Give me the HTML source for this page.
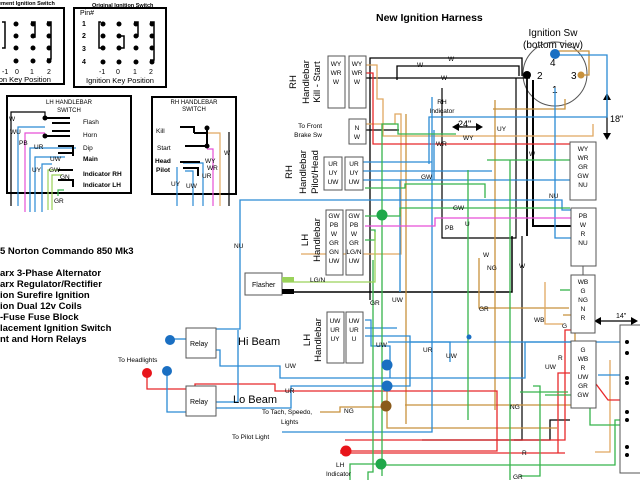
<!DOCTYPE html>
<html><head><meta charset="utf-8"><style>
html,body{margin:0;padding:0;background:#fff;}
svg{display:block;font-family:"Liberation Sans",Arial,sans-serif;}
</style></head><body>
<svg width="640" height="480" viewBox="0 0 640 480" xmlns="http://www.w3.org/2000/svg">
<rect width="640" height="480" fill="#fff"/>
<!-- top-left switch boxes -->
<g fill="none" stroke="#000" stroke-width="2">
<rect x="-5" y="8" width="69" height="76"/>
<rect x="74" y="8" width="92" height="79"/>
<rect x="7" y="96" width="124" height="97"/>
<rect x="152" y="97" width="84" height="97"/>
</g>
<text x="-2" y="5" font-size="5.5" font-weight="bold">ement Ignition Switch</text>
<text x="92" y="7" font-size="5.5" font-weight="bold">Original Ignition Switch</text>
<g fill="#000">
<circle cx="16" cy="24" r="2.5"/><circle cx="33" cy="24" r="2.5"/><circle cx="49" cy="24" r="2.5"/>
<circle cx="16" cy="36" r="2.5"/><circle cx="33" cy="36" r="2.5"/><circle cx="49" cy="36" r="2.5"/>
<circle cx="16" cy="48" r="2.5"/><circle cx="33" cy="48" r="2.5"/><circle cx="49" cy="48" r="2.5"/>
<circle cx="16" cy="61" r="2.5"/><circle cx="33" cy="61" r="2.5"/><circle cx="49" cy="61" r="2.5"/>
<circle cx="103" cy="24" r="2.5"/><circle cx="119" cy="24" r="2.5"/><circle cx="136" cy="24" r="2.5"/><circle cx="152" cy="24" r="2.5"/>
<circle cx="103" cy="36" r="2.5"/><circle cx="119" cy="36" r="2.5"/><circle cx="136" cy="36" r="2.5"/><circle cx="152" cy="36" r="2.5"/>
<circle cx="103" cy="48" r="2.5"/><circle cx="119" cy="48" r="2.5"/><circle cx="136" cy="48" r="2.5"/><circle cx="152" cy="48" r="2.5"/>
<circle cx="103" cy="62" r="2.5"/><circle cx="119" cy="62" r="2.5"/><circle cx="136" cy="62" r="2.5"/><circle cx="152" cy="62" r="2.5"/>
</g>
<g fill="none" stroke="#000" stroke-width="1.5">
<path d="M31 22h4v15h-4M47 22h4v37h-4M2 22h3v26h-3"/>
<path d="M101 22h-2v26h3M117 36h7v12h-6M134 22h4v14h-4M150 22h4v38h-4"/>
</g>
<g font-size="7" font-weight="bold"><text x="82" y="26">1</text><text x="82" y="38">2</text><text x="82" y="51">3</text><text x="82" y="64">4</text><text x="80" y="15" font-weight="normal">Pin#</text></g>
<g font-size="7"><text x="2" y="74">-1</text><text x="15" y="74">0</text><text x="30" y="74">1</text><text x="47" y="74">2</text>
<text x="99" y="74">-1</text><text x="116" y="74">0</text><text x="133" y="74">1</text><text x="149" y="74">2</text></g>
<text x="-5" y="82" font-size="7.5">tion Key Position</text>
<text x="86" y="83" font-size="7.5">Ignition Key Position</text>
<!-- LH handlebar switch -->
<text x="69" y="104" font-size="6" text-anchor="middle">LH HANDLEBAR</text>
<text x="69" y="112" font-size="6" text-anchor="middle">SWITCH</text>
<g font-size="6.5"><text x="83" y="124">Flash</text><text x="83" y="137">Horn</text><text x="83" y="150">Dip</text>
<text x="83" y="161" font-weight="bold">Main</text><text x="83" y="176" font-weight="bold">Indicator RH</text><text x="83" y="187" font-weight="bold">Indicator LH</text></g>
<g fill="none" stroke-width="1.2">
<path d="M11 206V112h34v6" stroke="#000"/>
<path d="M18 206V127h27" stroke="#2a8ad4"/>
<path d="M25 212V133h20" stroke="#e64fd6"/>
<path d="M30 212V148h46" stroke="#2a8ad4"/>
<path d="M35 212V157h30" stroke="#2a8ad4"/>
<path d="M42 212V164h10" stroke="#2a8ad4"/>
<path d="M48 210V170h14" stroke="#9ad25a"/>
<path d="M52 210V175h10" stroke="#9ad25a"/>
<path d="M58 196v-6h6" stroke="#36b44c"/>
</g>
<g fill="#000"><circle cx="45" cy="118" r="2.5"/><circle cx="45" cy="136" r="2.5"/></g>
<g stroke="#000" stroke-width="2" fill="none"><path d="M45 118h25M52 123h18M45 136h25M52 131h18M58 146h15v10M58 153h15M58 170h15M58 180h15v7"/></g>
<g font-size="6.5"><text x="9" y="121">W</text><text x="10" y="134">WU</text><text x="19" y="145">PB</text><text x="34" y="149">UR</text><text x="50" y="161">UW</text><text x="32" y="172">UY</text><text x="49" y="172">GW</text><text x="60" y="179">GN</text><text x="54" y="203">GR</text></g>
<!-- RH handlebar switch -->
<text x="194" y="104" font-size="6" text-anchor="middle">RH HANDLEBAR</text>
<text x="194" y="111" font-size="6" text-anchor="middle">SWITCH</text>
<g font-size="6.5"><text x="156" y="133">Kill</text><text x="157" y="150">Start</text><text x="155" y="163" font-weight="bold">Head</text><text x="156" y="172" font-weight="bold">Pilot</text></g>
<g fill="none" stroke-width="1.2">
<path d="M229 206V132" stroke="#000"/>
<path d="M220 206V133h-14" stroke="#e0a860"/>
<path d="M213 206V149h-6" stroke="#e64fd6"/>
<path d="M203 206V163h-20" stroke="#2a8ad4"/>
<path d="M193 206V171h-8" stroke="#2a8ad4"/>
<path d="M177 206V167" stroke="#2a8ad4"/>
</g>
<g stroke="#000" stroke-width="2" fill="none"><path d="M180 127h14v6M194 133h12M207 127v20M185 146h22M180 162h20M183 168h15v8"/></g>
<g fill="#000"><circle cx="207" cy="128" r="2.5"/><circle cx="207" cy="146" r="2.5"/></g>
<g font-size="6.5"><text x="205" y="163">WY</text><text x="224" y="155">W</text><text x="207" y="170">WR</text><text x="202" y="178">UR</text><text x="171" y="186">UY</text><text x="186" y="188">UW</text></g>
<!-- left text -->
<g font-size="9.5" font-weight="bold"><text x="0" y="254">5 Norton Commando 850 Mk3</text>
<text x="0" y="276">arx 3-Phase Alternator</text><text x="0" y="287">arx Regulator/Rectifier</text><text x="0" y="298">ion Surefire Ignition</text>
<text x="0" y="309">ion Dual 12v Coils</text><text x="0" y="320">-Fuse Fuse Block</text><text x="0" y="331">lacement Ignition Switch</text><text x="0" y="342">nt and Horn Relays</text></g>
<!-- Title and ignition switch -->
<text x="376" y="21" font-size="10.5" font-weight="bold">New Ignition Harness</text>
<text x="553" y="36" font-size="10" text-anchor="middle">Ignition Sw</text>
<text x="553" y="48" font-size="10" text-anchor="middle">(bottom view)</text>
<circle cx="555" cy="74" r="32" fill="none" stroke="#555" stroke-width="1"/>
<g font-size="10"><text x="550" y="66">4</text><text x="537" y="79">2</text><text x="571" y="79">3</text><text x="552" y="93">1</text></g>
<!-- 18" arrow -->
<path d="M607 95v42" stroke="#000" stroke-width="1.2"/><path d="M603 100l4-7 4 7zM603 133l4 7 4-7z" fill="#000"/>
<text x="610" y="122" font-size="9">18"</text>
<path d="M454 127h26" stroke="#000" stroke-width="1.2"/><path d="M459 123l-7 4 7 4zM476 123l7 4-7 4z" fill="#000"/>
<text x="458" y="127" font-size="9">24"</text>
<path d="M596 321h40" stroke="#000" stroke-width="1.2"/><path d="M601 317l-7 4 7 4zM631 317l7 4-7 4z" fill="#000"/>
<text x="616" y="318" font-size="7">14"</text>
<!-- wires -->
<g fill="none" stroke-width="1.3">
<!-- black -->
<path d="M370 300V58h152v18" stroke="#000"/>
<path d="M397 80V66h122v10" stroke="#000"/>
<path d="M365 78h165" stroke="#000"/>
<path d="M365 130h34" stroke="#000"/>
<path d="M516 78v160h-74v-150" stroke="#000" stroke-width="1.2"/>
<path d="M527 76v160" stroke="#000" stroke-width="1.8"/>
<path d="M533 80v146h39" stroke="#000" stroke-width="2"/>
<path d="M282 292h230v-56" stroke="#000" stroke-width="1.5"/>
<path d="M522 236v204h-100" stroke="#000" stroke-width="1.2"/>
<path d="M570 420h-20v20h-36" stroke="#000"/>
<!-- brown/tan -->
<path d="M365 65h12v34h6v37h210v-12" stroke="#e0a860"/>
<path d="M365 124h30v-10h6v140h-100" stroke="#e0a860"/>
<path d="M581 75h8v-24h-34" stroke="#c8913c"/>
<path d="M495 100v310" stroke="#c8913c"/>
<path d="M493 109h72v-10" stroke="#c8913c"/>
<path d="M406 114v310" stroke="#c8913c"/>
<path d="M479 258v50h90" stroke="#c8913c"/>
<path d="M405 405h170v-90h-12" stroke="#c8913c"/>
<path d="M545 282v42h18" stroke="#e0a860"/>
<path d="M610 360v92h-15" stroke="#e0a860"/>
<path d="M387 386v42h170" stroke="#c8913c"/>
<path d="M320 412h20v-5h45" stroke="#c8913c"/>
<!-- red -->
<path d="M365 73h8v71h203v13h-6" stroke="#e8282a"/>
<path d="M147 374v15h48v-5h80v7h222v60h-157" stroke="#e8282a"/>
<path d="M345 440h220v-110h8" stroke="#e8282a"/>
<path d="M340 453h225" stroke="#e8282a"/>
<path d="M558 453v-80h12" stroke="#e8282a"/>
<path d="M573 380h20l15 20h15v-5" stroke="#e8282a"/>
<!-- blue -->
<path d="M555 55h52v62h-178v47" stroke="#2a8ad4"/>
<path d="M362 162h70M362 171h130M362 180h210" stroke="#2a8ad4"/>
<path d="M434 180V130" stroke="#2a8ad4"/>
<path d="M240 270V200h322v10h12" stroke="#2a8ad4"/>
<path d="M555 88v150h18" stroke="#2a8ad4"/>
<path d="M240 270v59h-24" stroke="#2a8ad4"/>
<path d="M170 339h16" stroke="#2a8ad4"/>
<path d="M216 350h4v16h60v12h245v-36h50" stroke="#2a8ad4"/>
<path d="M365 320h6v26h19v32" stroke="#2a8ad4"/>
<path d="M365 328h32" stroke="#2a8ad4"/>
<path d="M365 336h45v50h-22" stroke="#2a8ad4"/>
<path d="M238 330v72h-22" stroke="#2a8ad4"/>
<path d="M167 372v40h19" stroke="#2a8ad4"/>
<path d="M216 408h75v-22h97" stroke="#2a8ad4"/>
<path d="M282 432h150v-335" stroke="#2a8ad4"/>
<path d="M400 292v-112" stroke="#2a8ad4"/>
<path d="M388 342h270" stroke="#2a8ad4"/>
<path d="M410 342h40v20" stroke="#2a8ad4"/>
<path d="M598 375h32v-20" stroke="#2a8ad4"/>
<!-- green -->
<path d="M382 215V124h16v10h58" stroke="#36b44c"/>
<path d="M365 188h40v-4h80v14" stroke="#36b44c"/>
<path d="M365 216h35v-8h170" stroke="#36b44c"/>
<path d="M382 216v260" stroke="#36b44c"/>
<path d="M468 170v250" stroke="#36b44c"/>
<path d="M510 160v320" stroke="#36b44c"/>
<path d="M487 160h85v5" stroke="#36b44c"/>
<path d="M365 240h10v-10h-4" stroke="#36b44c"/>
<path d="M373 260v212h-5v8" stroke="#36b44c"/>
<path d="M380 464h-30v16" stroke="#36b44c"/>
<path d="M380 465h235v-45h20" stroke="#36b44c"/>
<path d="M520 476h20v-90h-7" stroke="#36b44c"/>
<path d="M545 395h45v30h30" stroke="#36b44c"/>
<path d="M520 392h48" stroke="#36b44c"/>
<path d="M560 290h10" stroke="#36b44c"/>
<!-- pink -->
<path d="M365 226h70v-8h138" stroke="#e64fd6"/>
<!-- light green -->
<path d="M283 282h92v-50" stroke="#9ad25a"/>
</g>
<!-- connector boxes -->
<g fill="#fff" stroke="#555" stroke-width="1">
<rect x="328" y="56" width="17" height="52"/><rect x="349" y="56" width="17" height="52"/>
<rect x="349" y="119" width="17" height="25"/>
<rect x="324" y="157" width="18" height="33"/><rect x="345" y="157" width="18" height="33"/>
<rect x="326" y="210" width="17" height="65"/><rect x="346" y="210" width="17" height="65"/>
<rect x="327" y="312" width="17" height="51"/><rect x="346" y="312" width="17" height="51"/>
<rect x="570" y="142" width="26" height="58"/>
<rect x="571" y="208" width="25" height="58"/>
<rect x="571" y="275" width="24" height="58"/>
<rect x="571" y="341" width="25" height="67"/>
<rect x="620" y="325" width="30" height="148"/>
<rect x="245" y="273" width="37" height="22"/>
<rect x="186" y="328" width="30" height="30"/>
<rect x="186" y="386" width="30" height="30"/>
</g>
<path d="M583 266v9" stroke="#555"/>
<rect x="282" y="277" width="12" height="5" fill="#9ad25a"/><rect x="282" y="289" width="12" height="5" fill="#000"/>
<g font-size="6.5" text-anchor="middle">
<text x="336" y="66">WY</text><text x="336" y="75">WR</text><text x="336" y="84">W</text>
<text x="357" y="66">WY</text><text x="357" y="75">WR</text><text x="357" y="84">W</text>
<text x="357" y="130">N</text><text x="357" y="139">W</text>
<text x="333" y="166">UR</text><text x="333" y="175">UY</text><text x="333" y="184">UW</text>
<text x="354" y="166">UR</text><text x="354" y="175">UY</text><text x="354" y="184">UW</text>
<text x="334" y="218">GW</text><text x="334" y="227">PB</text><text x="334" y="236">W</text><text x="334" y="245">GR</text><text x="334" y="254">GN</text><text x="334" y="263">UW</text>
<text x="354" y="218">GW</text><text x="354" y="227">PB</text><text x="354" y="236">W</text><text x="354" y="245">GR</text><text x="354" y="254">LG/N</text><text x="354" y="263">UW</text>
<text x="335" y="323">UW</text><text x="335" y="332">UR</text><text x="335" y="341">UY</text>
<text x="354" y="323">UW</text><text x="354" y="332">UR</text><text x="354" y="341">U</text>
<text x="583" y="151">WY</text><text x="583" y="160">WR</text><text x="583" y="169">GR</text><text x="583" y="178">GW</text><text x="583" y="187">NU</text>
<text x="583" y="218">PB</text><text x="583" y="227">W</text><text x="583" y="236">R</text><text x="583" y="245">NU</text>
<text x="583" y="284">WB</text><text x="583" y="293">G</text><text x="583" y="302">NG</text><text x="583" y="311">N</text><text x="583" y="320">R</text>
<text x="583" y="352">G</text><text x="583" y="361">WB</text><text x="583" y="370">R</text><text x="583" y="379">UW</text><text x="583" y="388">GR</text><text x="583" y="397">GW</text>
</g>
<g font-size="9.5" text-anchor="middle">
<text transform="translate(296,82) rotate(-90)">RH</text>
<text transform="translate(309,82) rotate(-90)">Handlebar</text>
<text transform="translate(320,82) rotate(-90)">Kill - Start</text>
<text transform="translate(292,172) rotate(-90)">RH</text>
<text transform="translate(306,172) rotate(-90)">Handlebar</text>
<text transform="translate(318,172) rotate(-90)">Pilot/Head</text>
<text transform="translate(308,240) rotate(-90)">LH</text>
<text transform="translate(320,240) rotate(-90)">Handlebar</text>
<text transform="translate(310,340) rotate(-90)">LH</text>
<text transform="translate(321,340) rotate(-90)">Handlebar</text>
</g>
<g font-size="6.5"><text x="322" y="128" text-anchor="end">To Front</text><text x="322" y="137" text-anchor="end">Brake Sw</text>
<text x="442" y="104" text-anchor="middle">RH</text><text x="442" y="113" text-anchor="middle">Indicator</text>
<text x="252" y="287" font-size="7">Flasher</text><text x="190" y="346" font-size="7">Relay</text><text x="190" y="404" font-size="7">Relay</text>
<text x="118" y="362">To Headlights</text>
<text x="262" y="414">To Tach, Speedo,</text><text x="281" y="424">Lights</text>
<text x="232" y="439">To Pilot Light</text>
<text x="336" y="467">LH</text><text x="326" y="476">Indicator</text>
<text x="234" y="248">NU</text><text x="310" y="282">LG/N</text><text x="370" y="305">GR</text><text x="392" y="302">UW</text>
<text x="376" y="347">UW</text><text x="423" y="352">UR</text><text x="446" y="358">UW</text><text x="285" y="368">UW</text><text x="285" y="393">UR</text>
<text x="344" y="413">NG</text><text x="487" y="270">NG</text><text x="519" y="268">W</text><text x="534" y="322">WB</text><text x="479" y="311">GR</text>
<text x="421" y="179">GW</text><text x="453" y="210">GW</text><text x="445" y="230">PB</text><text x="465" y="226">U</text>
<text x="436" y="146">WR</text><text x="463" y="140">WY</text><text x="497" y="131">UY</text><text x="529" y="156">W</text><text x="549" y="198">NU</text>
<text x="448" y="61">W</text><text x="417" y="67">W</text><text x="441" y="80">W</text><text x="483" y="257">W</text>
<text x="510" y="409">NG</text><text x="522" y="455">R</text><text x="513" y="479">GR</text><text x="545" y="369">UW</text><text x="562" y="328">G</text><text x="558" y="360">R</text>
</g>
<g font-size="11"><text x="238" y="345">Hi Beam</text><text x="233" y="403">Lo Beam</text></g>
<!-- dots -->
<circle cx="555" cy="54" r="5" fill="#1a6fc2"/>
<circle cx="581" cy="75" r="3.5" fill="#c8913c"/>
<circle cx="527" cy="75" r="4" fill="#000"/>
<circle cx="382" cy="215" r="5.5" fill="#1fa84a"/>
<circle cx="170" cy="340" r="5" fill="#1a6fc2"/>
<circle cx="147" cy="373" r="5" fill="#e8141a"/>
<circle cx="167" cy="371" r="5" fill="#1a6fc2"/>
<circle cx="387" cy="365" r="5.5" fill="#1a6fc2"/>
<circle cx="387" cy="386" r="5.5" fill="#1a6fc2"/>
<circle cx="386" cy="406" r="5.5" fill="#8a5a1a"/>
<circle cx="346" cy="451" r="5.5" fill="#e8141a"/>
<circle cx="381" cy="464" r="5.5" fill="#1fa84a"/>
<circle cx="469" cy="337" r="2.5" fill="#1a6fc2"/>
<g fill="#000"><circle cx="627" cy="342" r="2"/><circle cx="627" cy="353" r="2"/><circle cx="627" cy="378" r="2"/><circle cx="627" cy="383" r="2"/><circle cx="627" cy="412" r="2"/><circle cx="627" cy="420" r="2"/><circle cx="627" cy="447" r="2"/><circle cx="627" cy="455" r="2"/></g>
</svg>
</body></html>
